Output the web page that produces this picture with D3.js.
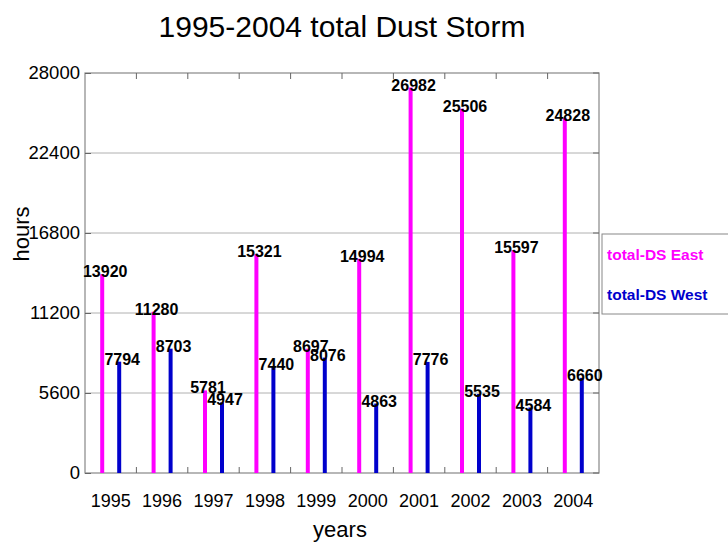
<!DOCTYPE html>
<html lang="en">
<head>
    <meta charset="UTF-8">
    <title>1995-2004 total Dust Storm</title>
    <script src="https://d3js.org/d3.v7.min.js"></script>
    <style>
        body { margin: 0; background: #fff; }
        text { font-family: "Liberation Sans", Arial, sans-serif; }
    </style>
</head>
<body>
<svg height="545" width="728"></svg>

<script>
    const years = [1995, 1996, 1997, 1998, 1999, 2000, 2001, 2002, 2003, 2004];
    const east = [13920, 11280, 5781, 15321, 8697, 14994, 26982, 25506, 15597, 24828];
    const west = [7794, 8703, 4947, 7440, 8076, 4863, 7776, 5535, 4584, 6660];
    const yTicks = [0, 5600, 11200, 16800, 22400, 28000];

    const svg = d3.select("svg");
    const plotL = 85, plotR = 599, plotT = 73, plotB = 473;

    const x = d3.scaleLinear().domain([1994.5, 2004.5]).range([plotL, plotR]);
    const y = d3.scaleLinear().domain([0, 28000]).range([plotB, plotT]);

    // grid lines
    svg.append("g").selectAll("line")
        .data(yTicks.slice(1, -1))
        .enter().append("line")
        .attr("x1", plotL).attr("x2", plotR)
        .attr("y1", d => y(d)).attr("y2", d => y(d))
        .attr("stroke", "#b0b0b0").attr("stroke-width", 1);

    // frame
    svg.append("rect")
        .attr("x", plotL).attr("y", plotT)
        .attr("width", plotR - plotL).attr("height", plotB - plotT)
        .attr("fill", "none").attr("stroke", "#888").attr("stroke-width", 1.2);

    // y axis
    const yAxis = svg.append("g")
        .attr("transform", `translate(${plotL},0)`)
        .call(d3.axisLeft(y).tickValues(yTicks).tickSize(-6).tickPadding(5).tickFormat(d3.format("d")));
    yAxis.select(".domain").remove();
    yAxis.selectAll("line").attr("stroke", "#666");
    yAxis.selectAll("text").attr("font-size", 18.5).attr("fill", "#000")
        .attr("font-family", "'Liberation Sans', Arial, sans-serif");

    // y ticks on right side
    svg.append("g").selectAll("line")
        .data(yTicks)
        .enter().append("line")
        .attr("x1", plotR - 6).attr("x2", plotR)
        .attr("y1", d => y(d)).attr("y2", d => y(d))
        .attr("stroke", "#666");

    // x axis: minor ticks between years, labels at years
    const mids = years.slice(0, -1).map(d => d + 0.5);
    svg.append("g").selectAll("line")
        .data(mids)
        .enter().append("line")
        .attr("x1", d => x(d)).attr("x2", d => x(d))
        .attr("y1", plotB).attr("y2", plotB - 6)
        .attr("stroke", "#666");
    svg.append("g").selectAll("line")
        .data(mids)
        .enter().append("line")
        .attr("x1", d => x(d)).attr("x2", d => x(d))
        .attr("y1", plotT).attr("y2", plotT + 6)
        .attr("stroke", "#666");
    svg.append("g").selectAll("text")
        .data(years)
        .enter().append("text")
        .attr("x", d => x(d)).attr("y", 507)
        .attr("text-anchor", "middle")
        .attr("font-size", 18)
        .text(d => d);

    // bars
    const off = 8.5;
    const series = [
        {vals: east, color: "#ff00ff", dx: -off},
        {vals: west, color: "#0000cc", dx: off}
    ];
    series.forEach(s => {
        svg.append("g").selectAll("line")
            .data(years)
            .enter().append("line")
            .attr("x1", (d, i) => x(d) + s.dx).attr("x2", (d, i) => x(d) + s.dx)
            .attr("y1", y(0)).attr("y2", (d, i) => y(s.vals[i]))
            .attr("stroke", s.color).attr("stroke-width", 4);
        svg.append("g").selectAll("text")
            .data(years)
            .enter().append("text")
            .attr("x", (d, i) => x(d) + s.dx + 3)
            .attr("y", (d, i) => y(s.vals[i]) + 3)
            .attr("text-anchor", "middle")
            .attr("font-size", 16).attr("font-weight", "bold")
            .text((d, i) => s.vals[i]);
    });

    // title and axis labels
    svg.append("text")
        .attr("x", 342).attr("y", 37)
        .attr("text-anchor", "middle").attr("font-size", 30)
        .text("1995-2004 total Dust Storm");
    svg.append("text")
        .attr("x", 340).attr("y", 537)
        .attr("text-anchor", "middle").attr("font-size", 22)
        .text("years");
    svg.append("text")
        .attr("transform", "translate(29,234) rotate(-90)")
        .attr("text-anchor", "middle").attr("font-size", 22)
        .text("hours");

    // legend
    svg.append("rect")
        .attr("x", 602).attr("y", 234)
        .attr("width", 140).attr("height", 80)
        .attr("fill", "#fff").attr("stroke", "#888");
    const legend = [
        {label: "total-DS East", color: "#ff00ff", y: 260},
        {label: "total-DS West", color: "#0000cc", y: 300}
    ];
    svg.append("g").selectAll("text")
        .data(legend)
        .enter().append("text")
        .attr("x", 607).attr("y", d => d.y)
        .attr("font-size", 15.5).attr("font-weight", "bold")
        .attr("fill", d => d.color)
        .text(d => d.label);
</script>

</body>
</html>
